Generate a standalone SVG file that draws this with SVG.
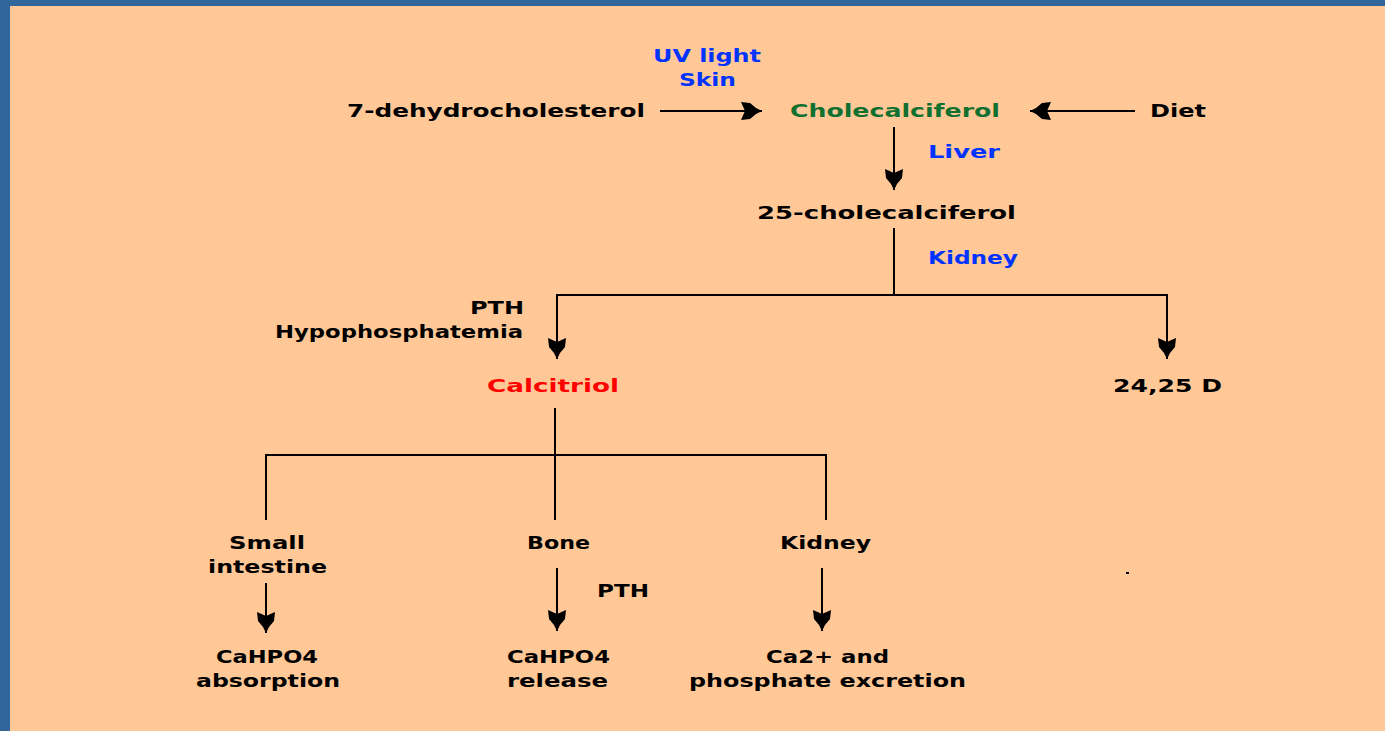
<svg xmlns="http://www.w3.org/2000/svg" width="1385" height="731" viewBox="0 0 1385 731">
<style>
text{font-family:"DejaVu Sans","Liberation Sans",sans-serif;font-weight:bold;font-size:18px;fill:#000}
.b{fill:#0033ff}.g{fill:#107030}.r{fill:#ff0000}
.ln{stroke:#000;stroke-width:2;fill:none}
</style>
<defs>
<marker id="ah" markerUnits="userSpaceOnUse" viewBox="-22 -10 24 20" refX="0" refY="0" markerWidth="24" markerHeight="20" orient="auto">
<path d="M0,0 L-6,-3 L-12,-8 L-21,-9 L-17,0 L-21,9 L-12,8 L-6,3 Z" fill="#000"/>
</marker>
</defs>
<rect x="0" y="0" width="1385" height="731" fill="#31669a"/>
<rect x="10" y="6" width="1375" height="725" fill="#ffc896"/>
<g id="connectors">
<line class="ln" x1="660" y1="111" x2="762" y2="111" marker-end="url(#ah)"/>
<line class="ln" x1="1135" y1="111" x2="1030" y2="111" marker-end="url(#ah)"/>
<line class="ln" x1="894" y1="127" x2="894" y2="190" marker-end="url(#ah)"/>
<polyline class="ln" points="894,228 894,295 557,295 557,359" marker-end="url(#ah)"/>
<polyline class="ln" points="894,295 1167,295 1167,359" marker-end="url(#ah)"/>
<line class="ln" x1="555" y1="408" x2="555" y2="520"/>
<polyline class="ln" points="266,520 266,455 826,455 826,520"/>
<line class="ln" x1="266" y1="583" x2="266" y2="633" marker-end="url(#ah)"/>
<line class="ln" x1="557" y1="568" x2="557" y2="631" marker-end="url(#ah)"/>
<line class="ln" x1="822" y1="568" x2="822" y2="631" marker-end="url(#ah)"/>
</g>
<g id="uv"><text class="b" x="653" y="62" textLength="108" lengthAdjust="spacingAndGlyphs">UV light</text><text class="b" x="679" y="86" textLength="57" lengthAdjust="spacingAndGlyphs">Skin</text></g>
<g id="dehydro"><text x="347" y="117" textLength="298" lengthAdjust="spacingAndGlyphs">7-dehydrocholesterol</text></g>
<g id="chole"><text class="g" x="790" y="117" textLength="210" lengthAdjust="spacingAndGlyphs">Cholecalciferol</text></g>
<g id="diet"><text x="1150" y="117" textLength="56" lengthAdjust="spacingAndGlyphs">Diet</text></g>
<g id="liver"><text class="b" x="928" y="158" textLength="72" lengthAdjust="spacingAndGlyphs">Liver</text></g>
<g id="c25"><text x="757" y="219" textLength="259" lengthAdjust="spacingAndGlyphs">25-cholecalciferol</text></g>
<g id="kidney1"><text class="b" x="928" y="264" textLength="90" lengthAdjust="spacingAndGlyphs">Kidney</text></g>
<g id="pth1"><text x="470" y="314" textLength="54" lengthAdjust="spacingAndGlyphs">PTH</text><text x="275" y="338" textLength="248" lengthAdjust="spacingAndGlyphs">Hypophosphatemia</text></g>
<g id="calcitriol"><text class="r" x="487" y="392" textLength="132" lengthAdjust="spacingAndGlyphs">Calcitriol</text></g>
<g id="d2425"><text x="1113" y="392" textLength="109" lengthAdjust="spacingAndGlyphs">24,25 D</text></g>
<g id="small"><text x="229" y="549" textLength="76" lengthAdjust="spacingAndGlyphs">Small</text><text x="208" y="573" textLength="119" lengthAdjust="spacingAndGlyphs">intestine</text></g>
<g id="bone"><text x="527" y="549" textLength="63" lengthAdjust="spacingAndGlyphs">Bone</text></g>
<g id="kidney2"><text x="780" y="549" textLength="91" lengthAdjust="spacingAndGlyphs">Kidney</text></g>
<g id="pth2"><text x="597" y="597" textLength="52" lengthAdjust="spacingAndGlyphs">PTH</text></g>
<g id="abs"><text x="216" y="663" textLength="102" lengthAdjust="spacingAndGlyphs">CaHPO4</text><text x="196" y="687" textLength="144" lengthAdjust="spacingAndGlyphs">absorption</text></g>
<g id="rel"><text x="507" y="663" textLength="103" lengthAdjust="spacingAndGlyphs">CaHPO4</text><text x="507" y="687" textLength="101" lengthAdjust="spacingAndGlyphs">release</text></g>
<g id="exc"><text x="766" y="663" textLength="123" lengthAdjust="spacingAndGlyphs">Ca2+ and</text><text x="689" y="687" textLength="277" lengthAdjust="spacingAndGlyphs">phosphate excretion</text></g>
<rect x="1126" y="572" width="3" height="2" fill="#000"/>
</svg>
